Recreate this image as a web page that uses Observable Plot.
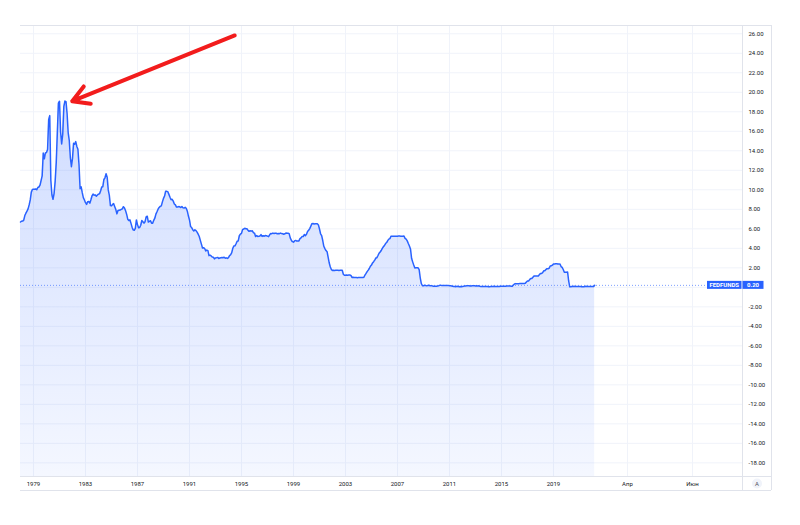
<!DOCTYPE html>
<html>
<head>
<meta charset="utf-8">
<script src="https://cdn.jsdelivr.net/npm/d3@7"></script>
<script src="https://cdn.jsdelivr.net/npm/@observablehq/plot@0.6"></script>
<style>
  html, body { margin: 0; padding: 0; background: #ffffff; }
  #chart { width: 800px; height: 525px; }
</style>
</head>
<body>
<div id="chart"></div>
<script>
// ---- Data (monthly effective federal funds rate, %, starting Jan 1978) ----
const startYear = 1978;
const fedfunds = [
  // 1978
  6.70, 6.78, 6.79, 6.89, 7.36, 7.60, 7.81, 8.04, 8.45, 8.96, 9.76, 10.03,
  // 1979
  10.07, 10.06, 10.09, 10.01, 10.24, 10.29, 10.47, 10.94, 11.43, 13.77, 13.18, 13.78,
  // 1980
  13.82, 14.13, 17.19, 17.61, 10.98, 9.47, 9.03, 9.61, 10.87, 12.81, 15.85, 18.90,
  // 1981
  19.08, 15.93, 14.70, 15.72, 18.52, 19.10, 19.04, 17.82, 15.87, 15.08, 13.31, 12.37,
  // 1982
  13.22, 14.78, 14.68, 14.94, 14.45, 14.15, 12.59, 10.12, 10.31, 9.71, 9.20, 8.95,
  // 1983
  8.68, 8.51, 8.77, 8.80, 8.63, 8.98, 9.37, 9.56, 9.45, 9.48, 9.34, 9.47,
  // 1984
  9.56, 9.59, 9.91, 10.29, 10.32, 11.06, 11.23, 11.64, 11.30, 9.99, 9.43, 8.38,
  // 1985
  8.35, 8.50, 8.58, 8.27, 7.97, 7.53, 7.88, 7.90, 7.92, 7.99, 8.05, 8.27,
  // 1986
  8.14, 7.86, 7.48, 6.99, 6.85, 6.92, 6.56, 6.17, 5.89, 5.85, 6.04, 6.91,
  // 1987
  6.43, 6.10, 6.13, 6.37, 6.85, 6.73, 6.58, 6.73, 7.22, 7.29, 6.69, 6.77,
  // 1988
  6.83, 6.58, 6.58, 6.87, 7.09, 7.51, 7.75, 8.01, 8.19, 8.30, 8.35, 8.76,
  // 1989
  9.12, 9.36, 9.85, 9.84, 9.81, 9.53, 9.24, 8.99, 9.02, 8.84, 8.55, 8.45,
  // 1990
  8.23, 8.24, 8.28, 8.26, 8.18, 8.29, 8.15, 8.13, 8.20, 8.11, 7.81, 7.31,
  // 1991
  6.91, 6.25, 6.12, 5.91, 5.78, 5.90, 5.82, 5.66, 5.45, 5.21, 4.81, 4.43,
  // 1992
  4.03, 4.06, 3.98, 3.73, 3.82, 3.76, 3.25, 3.30, 3.22, 3.10, 3.09, 2.92,
  // 1993
  3.02, 3.03, 3.07, 2.96, 3.00, 3.04, 3.06, 3.03, 3.09, 2.99, 3.02, 2.96,
  // 1994
  3.05, 3.25, 3.34, 3.56, 4.01, 4.25, 4.26, 4.47, 4.73, 4.76, 5.29, 5.45,
  // 1995
  5.53, 5.92, 5.98, 6.05, 6.01, 6.00, 5.85, 5.74, 5.80, 5.76, 5.80, 5.60,
  // 1996
  5.56, 5.22, 5.31, 5.22, 5.24, 5.27, 5.40, 5.22, 5.30, 5.24, 5.31, 5.29,
  // 1997
  5.25, 5.19, 5.39, 5.51, 5.50, 5.56, 5.52, 5.54, 5.54, 5.50, 5.52, 5.50,
  // 1998
  5.56, 5.51, 5.49, 5.45, 5.49, 5.56, 5.54, 5.55, 5.51, 5.07, 4.83, 4.68,
  // 1999
  4.63, 4.76, 4.81, 4.74, 4.74, 4.76, 4.99, 5.07, 5.22, 5.20, 5.42, 5.30,
  // 2000
  5.45, 5.73, 5.85, 6.02, 6.27, 6.53, 6.54, 6.50, 6.52, 6.51, 6.51, 6.40,
  // 2001
  5.98, 5.49, 5.31, 4.80, 4.21, 3.97, 3.77, 3.65, 3.07, 2.49, 2.09, 1.82,
  // 2002
  1.73, 1.74, 1.73, 1.75, 1.75, 1.75, 1.73, 1.74, 1.75, 1.75, 1.34, 1.24,
  // 2003
  1.24, 1.26, 1.25, 1.26, 1.26, 1.22, 1.01, 1.03, 1.01, 1.01, 1.00, 0.98,
  // 2004
  1.00, 1.01, 1.00, 1.00, 1.00, 1.03, 1.26, 1.43, 1.61, 1.76, 1.93, 2.16,
  // 2005
  2.28, 2.50, 2.63, 2.79, 3.00, 3.04, 3.26, 3.50, 3.62, 3.78, 4.00, 4.16,
  // 2006
  4.29, 4.49, 4.59, 4.79, 4.94, 4.99, 5.24, 5.25, 5.25, 5.25, 5.25, 5.24,
  // 2007
  5.25, 5.26, 5.26, 5.25, 5.25, 5.25, 5.26, 5.02, 4.94, 4.76, 4.49, 4.24,
  // 2008
  3.94, 2.98, 2.61, 2.28, 1.98, 2.00, 2.01, 2.00, 1.81, 0.97, 0.39, 0.16,
  // 2009
  0.15, 0.22, 0.18, 0.15, 0.18, 0.21, 0.16, 0.16, 0.15, 0.12, 0.12, 0.12,
  // 2010
  0.11, 0.13, 0.16, 0.20, 0.20, 0.18, 0.18, 0.19, 0.19, 0.19, 0.19, 0.18,
  // 2011
  0.17, 0.16, 0.14, 0.10, 0.09, 0.09, 0.07, 0.10, 0.08, 0.07, 0.08, 0.07,
  // 2012
  0.08, 0.10, 0.13, 0.14, 0.16, 0.16, 0.16, 0.13, 0.14, 0.16, 0.16, 0.16,
  // 2013
  0.14, 0.15, 0.14, 0.15, 0.11, 0.09, 0.09, 0.08, 0.08, 0.09, 0.08, 0.09,
  // 2014
  0.07, 0.07, 0.08, 0.09, 0.09, 0.10, 0.09, 0.09, 0.09, 0.09, 0.09, 0.12,
  // 2015
  0.11, 0.11, 0.11, 0.12, 0.12, 0.13, 0.13, 0.14, 0.14, 0.12, 0.12, 0.24,
  // 2016
  0.34, 0.38, 0.36, 0.37, 0.37, 0.38, 0.39, 0.40, 0.40, 0.40, 0.41, 0.54,
  // 2017
  0.65, 0.66, 0.79, 0.90, 0.91, 1.04, 1.15, 1.16, 1.15, 1.15, 1.16, 1.30,
  // 2018
  1.41, 1.42, 1.51, 1.69, 1.70, 1.82, 1.91, 1.91, 1.95, 2.19, 2.20, 2.27,
  // 2019
  2.40, 2.40, 2.41, 2.42, 2.39, 2.38, 2.40, 2.13, 2.04, 1.83, 1.55, 1.55,
  // 2020
  1.55, 1.58, 0.65, 0.05, 0.05, 0.08, 0.09, 0.10, 0.09, 0.09, 0.09, 0.09,
  // 2021
  0.09, 0.08, 0.07, 0.07, 0.06, 0.08, 0.10, 0.09, 0.08, 0.08, 0.08, 0.08,
  // 2022
  0.08, 0.08, 0.20
];

const seriesName = "FEDFUNDS";
const lastValue = 0.20;

// y axis ticks (right side); 0 is hidden behind the last-value label
const yGridValues = [-18, -16, -14, -12, -10, -8, -6, -4, -2, 0, 2, 4, 6, 8, 10, 12, 14, 16, 18, 20, 22, 24, 26];
const yTickValues = yGridValues.filter(v => v !== 0);

// x axis ticks (fractional years) and their labels
const xTickValues = [1979, 1983, 1987, 1991, 1995, 1999, 2003, 2007, 2011, 2015, 2019, 2024.69, 2029.69];
const xTickLabels = ["1979", "1983", "1987", "1991", "1995", "1999", "2003", "2007", "2011", "2015", "2019", "Апр", "Июн"];

// red annotation arrow (data coordinates: year, percent)
const arrowStart = { x: 1994.48, y: 25.83 };
const arrowEnd = { x: 1981.98, y: 19.09 };

// ---- Build ----
const data = fedfunds.map((v, i) => ({ date: startYear + i / 12, value: v }));
const yDomain = [-19.4, 26.85];
const xDomain = [1978, 2033.54];

const W = 800, H = 525;
const mLeft = 20, mRight = 58, mTop = 25, mBottom = 49;
const blue = "#2962ff";
const gridColor = "#f0f3fa";
const borderColor = "#e0e3eb";
const textColor = "#131722";
const font = "Roboto, 'Liberation Sans', sans-serif";

const defsMark = () => {
  const defs = d3.create("svg:defs");
  const g = defs.append("linearGradient")
    .attr("id", "areaGrad").attr("x1", 0).attr("y1", 0).attr("x2", 0).attr("y2", 1);
  g.append("stop").attr("offset", "0%").attr("stop-color", blue).attr("stop-opacity", 0.22);
  g.append("stop").attr("offset", "100%").attr("stop-color", blue).attr("stop-opacity", 0.05);
  return defs.node();
};

const chart = Plot.plot({
  width: W,
  height: H,
  marginLeft: mLeft,
  marginRight: mRight,
  marginTop: mTop,
  marginBottom: mBottom,
  style: { fontFamily: font, fontSize: "6px", color: textColor, background: "#ffffff", overflow: "visible" },
  x: {
    type: "linear",
    domain: xDomain,
    ticks: xTickValues,
    tickFormat: d => xTickLabels[xTickValues.indexOf(d)],
    tickSize: 0,
    tickPadding: 5,
    label: null
  },
  y: {
    type: "linear",
    domain: yDomain,
    axis: "right",
    ticks: yTickValues,
    tickFormat: d => (d < 0 ? "-" : "") + Math.abs(d).toFixed(2),
    tickSize: 0,
    tickPadding: 6,
    label: null
  },
  marks: [
    defsMark,
    Plot.ruleY(yGridValues, { stroke: gridColor, strokeWidth: 1 }),
    Plot.ruleX(xTickValues, { stroke: gridColor, strokeWidth: 1 }),
    Plot.areaY(data, { x: "date", y1: yDomain[0], y2: "value", fill: "url(#areaGrad)", curve: "linear" }),
    Plot.lineY(data, { x: "date", y: "value", stroke: blue, strokeWidth: 1.5, curve: "linear" }),
    Plot.ruleY([lastValue], { stroke: blue, strokeOpacity: 0.6, strokeWidth: 1, strokeDasharray: "1,2" }),
    Plot.arrow([{ x1: arrowStart.x, y1: arrowStart.y, x2: arrowEnd.x, y2: arrowEnd.y }], {
      x1: "x1", y1: "y1", x2: "x2", y2: "y2",
      stroke: "#f21c1c", strokeWidth: 4, headLength: 7, headAngle: 60, bend: 0
    })
  ]
});

document.getElementById("chart").appendChild(chart);

// ---- Chrome: pane borders, last-value label, auto-scale button ----
const svg = d3.select(chart);
const ySc = chart.scale("y");
const yPix = ySc.apply ? ySc.apply : d3.scaleLinear(ySc.domain, ySc.range);
const xSc = chart.scale("x");
const xPixR = (xSc.range ? xSc.range[1] : W - mRight);

const paneRight = xPixR;            // separator between pane and price axis
const outerRight = paneRight + 29;  // outer border of price axis
const paneBottom = H - mBottom;
const axisBottom = paneBottom + 14;

const chrome = svg.append("g").attr("stroke", borderColor).attr("stroke-width", 1).attr("shape-rendering", "crispEdges");
chrome.append("line").attr("x1", mLeft).attr("x2", outerRight).attr("y1", mTop).attr("y2", mTop);
chrome.append("line").attr("x1", mLeft).attr("x2", outerRight).attr("y1", paneBottom).attr("y2", paneBottom);
chrome.append("line").attr("x1", mLeft).attr("x2", outerRight).attr("y1", axisBottom).attr("y2", axisBottom);
chrome.append("line").attr("x1", paneRight).attr("x2", paneRight).attr("y1", mTop).attr("y2", axisBottom);
chrome.append("line").attr("x1", outerRight).attr("x2", outerRight).attr("y1", mTop).attr("y2", axisBottom);

// last value label
const yLast = yPix(lastValue);
const lbl = svg.append("g").attr("font-family", font).attr("font-size", 6).attr("font-weight", "bold");
lbl.append("rect").attr("x", paneRight - 35).attr("y", yLast - 4).attr("width", 34.5).attr("height", 8).attr("fill", blue);
lbl.append("text").attr("x", paneRight - 17.75).attr("y", yLast).attr("dy", "0.35em")
  .attr("text-anchor", "middle").attr("fill", "#ffffff").text(seriesName);
lbl.append("rect").attr("x", paneRight + 0.5).attr("y", yLast - 4).attr("width", 21).attr("height", 8).attr("fill", blue);
lbl.append("text").attr("x", paneRight + 11).attr("y", yLast).attr("dy", "0.35em")
  .attr("text-anchor", "middle").attr("fill", "#ffffff").text(lastValue.toFixed(2));

// auto-scale "A" button
const btn = svg.append("g").attr("font-family", font);
btn.append("circle").attr("cx", paneRight + 15).attr("cy", paneBottom + 7.5).attr("r", 5).attr("fill", "#f0f3fa");
btn.append("text").attr("x", paneRight + 15).attr("y", paneBottom + 7.5).attr("dy", "0.35em")
  .attr("text-anchor", "middle").attr("font-size", 6).attr("fill", "#50535e").text("A");
</script>
</body>
</html>
